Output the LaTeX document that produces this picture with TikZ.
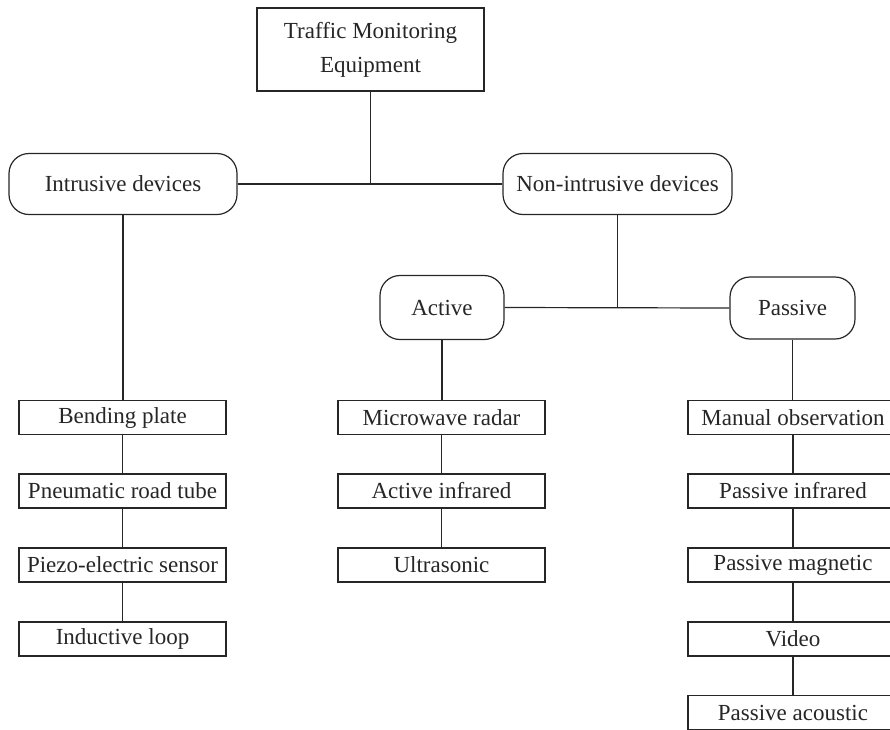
\documentclass[tikz,border=0pt]{standalone}
\usepackage{fontspec}
\setmainfont{Liberation Serif}
\begin{document}
\begin{tikzpicture}[x=1pt,y=-1pt,
  every node/.style={font=\fontsize{23}{34}\selectfont, text=black!85, inner sep=0pt},
  leaf/.style={draw=black!85, line width=1.2pt, minimum width=207pt, minimum height=34pt},
  group/.style={draw=black!85, line width=1.2pt, rounded corners=20pt},
  conn/.style={draw=black!85, line width=1.2pt}]
\useasboundingbox (0,0) rectangle (890,729);
% top
\node[draw=black!85, line width=1.2pt, minimum width=227pt, minimum height=83pt, align=center] (top) at (370.5,49.5) {Traffic Monitoring\\Equipment};
% level 1
\node[group, minimum width=228pt, minimum height=61pt] (intr) at (123,184) {Intrusive devices};
\node[group, minimum width=229pt, minimum height=61pt] (non) at (617.5,184) {Non-intrusive devices};
% level 2
\node[group, minimum width=124pt, minimum height=64pt] (act) at (442,307.5) {Active};
\node[group, minimum width=125pt, minimum height=62pt] (pas) at (792.5,308) {Passive};
% intrusive leaves
\node[leaf] (b1) at (122.5,417.5) {Bending plate};
\node[leaf] (b2) at (122.5,491) {Pneumatic road tube};
\node[leaf] (b3) at (122.5,565) {Piezo-electric sensor};
\node[leaf] (b4) at (122.5,639) {Inductive loop};
% active leaves
\node[leaf] (a1) at (441.5,417.5) {Microwave radar};
\node[leaf] (a2) at (441.5,491) {Active infrared};
\node[leaf] (a3) at (441.5,565) {Ultrasonic};
% passive leaves
\node[leaf, minimum width=210pt] (p1) at (793,417.5) {Manual observation};
\node[leaf, minimum width=210pt] (p2) at (793,491) {Passive infrared};
\node[leaf, minimum width=210pt] (p3) at (793,565) {Passive magnetic};
\node[leaf, minimum width=210pt] (p4) at (793,639) {Video};
\node[leaf, minimum width=210pt] (p5) at (793,712.5) {Passive acoustic};
% connectors
\coordinate (j1) at (top.south |- intr.east);
\draw[conn] (intr.east) -- (non.west);
\draw[conn] (top.south) -- (j1);
\coordinate (j2) at (non.south |- act.east);
\draw[conn] (act.east) -- (pas.west);
\draw[conn] (non.south) -- (j2);
\draw[conn] (intr.south) -- (intr.south |- b1.north);
\draw[conn] (b1) -- (b2) (b2) -- (b3) (b3) -- (b4);
\draw[conn] (act.south) -- (act.south |- a1.north);
\draw[conn] (a1) -- (a2) (a2) -- (a3);
\draw[conn] (pas.south) -- (pas.south |- p1.north);
\draw[conn] (p1) -- (p2) (p2) -- (p3) (p3) -- (p4) (p4) -- (p5);
\end{tikzpicture}
\end{document}
